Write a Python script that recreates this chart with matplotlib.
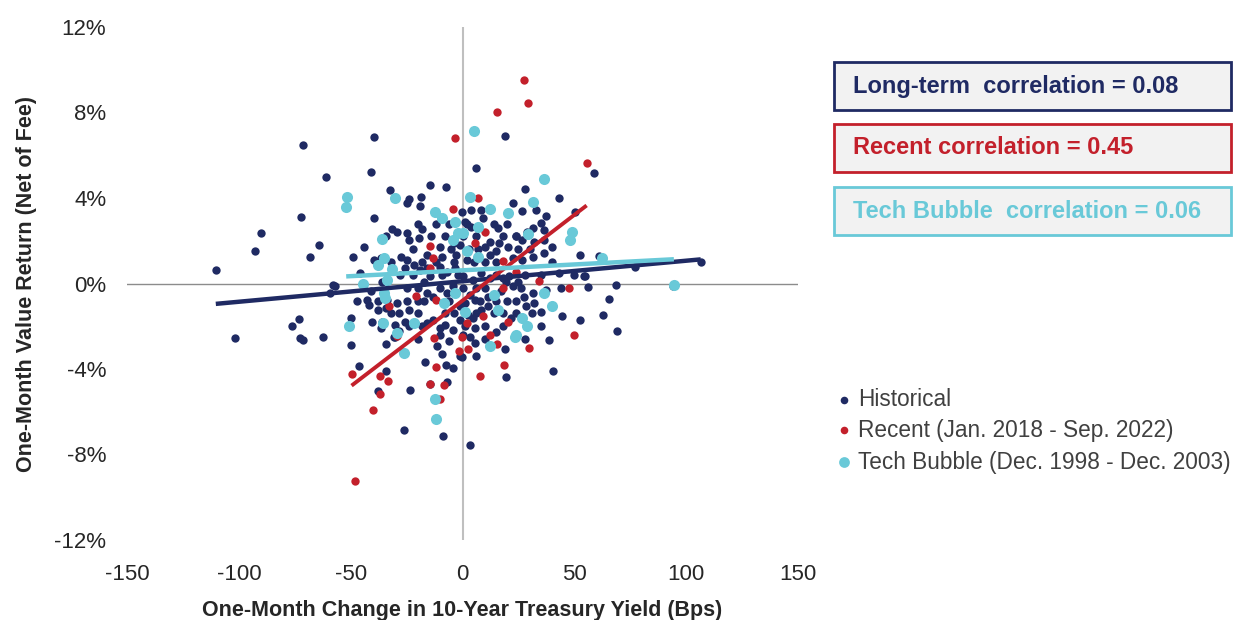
import matplotlib
matplotlib.use("Agg")
import matplotlib.pyplot as plt
from matplotlib.patches import Rectangle
import numpy as np

plt.rcParams['font.family'] = ['Liberation Sans', 'DejaVu Sans']

# ---------------- data ----------------
hist_x = [-110.3, -101.5, -92.6, -90, -72.3, -71.2, -61.2, -64.2, -68.1, -73, -76.4, -72.7, -71.2, -62.3, -58, -59.2,
          -39.5, -40.7, -32.2, -24, -18.6, -14.7, -7.4, 19.2, 6.2, 28, 43, 59, 61, 77.3, 106.5, 54.9, 56.3, 68.5, 94,
          65.5, 63, 68.9,
          38.6, 19, 5.4, -0.4, 6.2, 40.6, 19.5, 3.2,
          -49.9, -34.4, -30, -10, -6, -11.5, -9.3, -1.2, -46.2, -16.7, -7.5, -4.1, -34.4, -23.3, -14.5, -6.8, -37.6,
          -26.2, -8.8,
          -19.2, -39.5, -31.4, -29.2, -24.8, -24, -18.1, -19.6, -34, -10, -9.3, -15.9, -4, -49.1, -39.5, -36.6, -27.7,
          -24.8, -21.8, -25.5, -18.9, -15.9, -14.5, -17.4, -10, -7.1, -3.4, -57.2, -42.8, -41, -35.8, -33.6, -38, -34.4,
          -29.2, -24.8, -24, -28.5, -17.4, -15.9, -13, -7, -4.1, -49.9, -40.3, -35.8, -36.6, -30, -28.5, -30.7, -25.5,
          -21.1, -15.9, -13, -10, -7.8, -4.1, -24.8,
          22.4, 4, 8.4, -0.4, 26.8, 32.7, 37.2, 35, 31.3, 36.4, 50.4, 52.7, 9.1, 1, 4, 15.8, 23.9, 29, 12.1, 16.5, 20.2,
          15, 9.9, 12.1, 26.8, 32, 36.4, 40.1, 22.4, 26.8, 31.3, 36.4, 20.9, 24.6, 18, 43, 49.7, 54.1, 37.2, 31.3, 27.6,
          32, 28.3, 35, 44.6, 52.7, 17.3, 22.4, 19.5, 11.4, 11.4, 8.4, 23.9, 21.7, 26.8, 15, 4.7, 2.5, -1.2, 1, 5.4,
          0.3, 3.2, -1.2, 1, 5.4, 3.2, 0.3, 4.7, 8.4, 12.1, -2.7, 1.8, -1.2,
          -20, -12, -6, 2, 14, 20, -14, -8, 0, 6, 18, 24, -22, -5, 3, 7, 25, 30, -32, -18, -12, -4, 5, 10, 15, 40,
          -28, -22, -9, -2, 15, 28, 35, -25, -20, -10, 0, 6, 10, 26, 44, -38, -20, -6, 8, 15, 20, 24,
          -32, -20, -8, -4, 6, 14, 18, 31, -18, -24, 10, 18, 35, -20, 10, 28, -44, -46, -42, -47]
hist_y = [0.61, -2.55, 1.54, 2.37, 3.13, 6.48, 5.0, 1.78, 1.25, -1.67, -2.0, -2.55, -2.63, -2.48, -0.06, -0.45,
          6.84, 5.23, 4.38, 3.94, 4.07, 4.61, 4.53, 6.92, 5.39, 4.43, 3.99, 5.15, 1.29, 0.79, 1.0, 0.33, -0.17, -0.09,
          -0.11, -0.73, -1.46, -2.24,
          -2.63, -3.07, -2.79, -3.44, -3.41, -4.11, -4.39, -7.54,
          -2.87, -2.82, -2.48, -2.4, -2.71, -2.91, -3.3, -3.41, -3.85, -3.69, -3.83, -3.96, -4.11, -4.97, -4.71, -4.6,
          -5.05, -6.84, -7.15,
          3.63, 3.05, 2.54, 2.43, 2.38, 2.04, 2.54, 2.12, 2.2, 1.73, 1.26, 1.34, 1.9, 1.26, 1.1, 1.18, 1.26, 1.1, 0.87,
          0.72, 0.64, 0.72, 0.33, 0.09, 0.79, 0.56, 0.72, -0.11, -0.76, -0.37, 0.09, -0.76, -1.23, -1.15, -0.92, -0.84,
          -1.23, -1.39, -0.84, -0.45, -0.61, -0.45, -0.14, -1.62, -1.82, -1.78, -2.09, -1.93, -2.24, -2.48, -1.78,
          -1.85, -1.85, -1.7, -2.09, -1.93, -2.16, 3.75,
          3.75, 3.44, 3.44, 3.36, 3.41, 3.44, 3.16, 2.82, 2.58, 2.51, 3.36, 1.34, 3.05, 2.9, 2.66, 2.58, 2.2, 2.43, 1.96,
          1.88, 1.73, 1.5, 1.73, 1.34, 2.04, 1.96, 2.04, 1.73, 1.18, 1.1, 1.26, 1.42, 0.33, 0.09, 0.25, 0.48, 0.41, 0.33,
          -0.3, -0.45, -0.61, -0.92, -1.07, -1.31, -1.54, -1.73, -0.37, -0.14, 0.09, -0.61, -1.07, -1.23, -1.39, -1.62,
          -1.62, -2.29, -1.62, -1.46, -1.7, -2.0, -2.09, -2.4, -2.48, -1.07, -0.92, -0.76, -0.53, 0.33, 0.17, 0.48,
          0.25, 1.34, 1.1, 1.81,
          2.8, 2.8, 2.8, 2.8, 2.8, 2.8, 2.2, 2.2, 2.2, 2.2, 2.2, 2.2, 1.6, 1.6, 1.6, 1.6, 1.6, 1.6, 1.0, 1.0, 1.0, 1.0,
          1.0, 1.0, 1.0, 1.0, 0.4, 0.4, 0.4, 0.4, 0.4, 0.4, 0.4, -0.2, -0.2, -0.2, -0.2, -0.2, -0.2, -0.2, -0.2,
          -0.8, -0.8, -0.8, -0.8, -0.8, -0.8, -0.8, -1.4, -1.4, -1.4, -1.4, -1.4, -1.4, -1.4, -1.4, -2.0, -2.0, -2.0,
          -2.0, -2.0, -2.6, -2.6, -2.6, 1.7, 0.5, -1.0, -0.8]

recent_x = [-3.3, 27.6, 29.5, 15.4, 55.5, 7, 29.8, 15.4, 2.5, -1.5, 18.7, 7.7, 50, -0.4, -29.5, -12.7, -11.8, -49.6,
            -36.9, -33.3, -14.5, -8.3, -36.9, -10, -40, -48.1, -4.4, -14.5, -13.3, -14.5, -32.9, -20.7, -11.8, 9.9,
            5.4, 18, 23.9, 34.2, 47.5, 20.2, 9.1, 1.8, 12.1, 18]
recent_y = [6.8, 9.52, 8.46, 8.04, 5.66, 3.99, -3.02, -2.82, -3.05, -3.18, -3.83, -4.35, -2.4, -2.5, -2.45, -2.55,
            -3.91, -4.24, -4.35, -4.55, -4.71, -4.77, -5.17, -5.4, -5.9, -9.22, 3.47, 1.76, 1.18, 0.72, -1.07, -0.57,
            -0.79, 2.43, 1.88, 1.03, 0.56, 0.14, -0.22, -1.82, -1.51, -1.85, -2.4, -0.2]

tech_x = [5.2, -51.8, -52, -30, 36.4, 3.5, 31.5, 62.2, 94.5, 12.5, 23.5, -26.2, -12.5, -11.8, -12.3, -9.3, -3.4,
          -35.8, -4.1, -35.1, -38, -31.4, -33.6, -44.7, -35.1, -34.5, -8.3, -3.4, -50.6, -35.4, -29.2, -21.5, 12.1,
          20.2, 29.5, 49, 48.2, 6.9, 0.3, 1.8, 6.9, 36.4, 40.1, 14.3, 15.8, 26.8, 29, 23.9, 1, -1.9]
tech_y = [7.15, 4.05, 3.57, 4.02, 4.87, 4.07, 3.83, 1.18, -0.05, -2.94, -2.48, -3.26, -5.39, -6.32, 3.36, 3.05, 2.9,
          2.07, 2.04, 1.18, 0.87, 0.67, 0.17, -0.02, -0.45, -0.7, -0.89, -0.45, -2.0, -1.85, -2.32, -1.85, 3.49,
          3.29, 2.32, 2.43, 2.04, 2.63, 2.35, 1.5, 1.26, -0.45, -1.07, -0.53, -1.23, -1.62, -2.0, -2.4, -1.31, 2.35]

# linear trend fits (slope %/bp, intercept %)
fit_slope = {"hist": 0.0096, "recent": 0.0802, "tech": 0.00548}
fit_intercept = {"hist": 0.106, "recent": -0.80, "tech": 0.617}

correlations = ["Long-term  correlation = 0.08", "Recent correlation = 0.45", "Tech Bubble  correlation = 0.06"]
legend_labels = ["Historical", "Recent (Jan. 2018 - Sep. 2022)", "Tech Bubble (Dec. 1998 - Dec. 2003)"]
x_ticks = [-150, -100, -50, 0, 50, 100, 150]
y_ticks = [-12, -8, -4, 0, 4, 8, 12]

NAVY = "#1f2a63"
RED = "#c3202b"
CYAN = "#69c9d8"
GRAY_TXT = "#404040"

# ---------------- figure ----------------
W, H = 1234, 620
fig = plt.figure(figsize=(W / 100, H / 100), dpi=100)
ax = fig.add_axes([127 / W, 1 - 540 / H, 671 / W, 513 / H])

ax.set_xlim(-150, 150)
ax.set_ylim(-12, 12)
for s in ax.spines.values():
    s.set_visible(False)
ax.axhline(0, color="#8c8c8c", lw=1.0, zorder=1)
ax.axvline(0, color="#bfbfbf", lw=1.5, zorder=1)

ax.scatter(hist_x, hist_y, s=36, color=NAVY, linewidths=0, zorder=2)
ax.scatter(recent_x, recent_y, s=36, color=RED, linewidths=0, zorder=3)
ax.scatter(tech_x, tech_y, s=64, color=CYAN, linewidths=0, zorder=4)

for key, xs, col, lw in [("hist", hist_x, NAVY, 3.2), ("recent", recent_x, RED, 2.8), ("tech", tech_x, CYAN, 3.2)]:
    xr = np.array([min(xs), max(xs)])
    ax.plot(xr, fit_slope[key] * xr + fit_intercept[key], color=col, lw=lw, solid_capstyle="butt", zorder=5)

ax.set_xticks(x_ticks)
ax.set_xticklabels([str(v) for v in x_ticks])
ax.set_yticks(y_ticks)
ax.set_yticklabels([f"{v}%" for v in y_ticks])
ax.tick_params(length=0, labelsize=16, colors="#262626")
ax.tick_params(axis="x", pad=17)
ax.tick_params(axis="y", pad=15)
ax.set_xlabel("One-Month Change in 10-Year Treasury Yield (Bps)", fontsize=15.5, fontweight="bold",
              color="#262626", labelpad=11)
ax.set_ylabel("One-Month Value Return (Net of Fee)", fontsize=15.5, fontweight="bold",
              color="#262626", labelpad=12)

# overlay for boxes and legend (pixel coords)
ov = fig.add_axes([0, 0, 1, 1])
ov.set_xlim(0, W)
ov.set_ylim(H, 0)
ov.axis("off")
ov.patch.set_alpha(0)

box_tops = [62, 124, 187]
box_cols = [NAVY, RED, CYAN]
for top, col, txt in zip(box_tops, box_cols, correlations):
    ov.add_patch(Rectangle((834, top), 397, 48, facecolor="#f2f2f2", edgecolor=col, lw=2.0))
    ov.text(853, top + 24, txt, color=col, fontsize=17, fontweight="bold", va="center", ha="left")

leg_y = [400, 430, 462]
leg_cols = [NAVY, RED, CYAN]
leg_sizes = [30, 30, 60]
for yy, col, sz, lab in zip(leg_y, leg_cols, leg_sizes, legend_labels):
    ov.scatter([844], [yy], s=sz, color=col, linewidths=0)
    ov.text(858, yy, lab, color=GRAY_TXT, fontsize=16.3, va="center", ha="left")

fig.savefig("out.png", dpi=100)
